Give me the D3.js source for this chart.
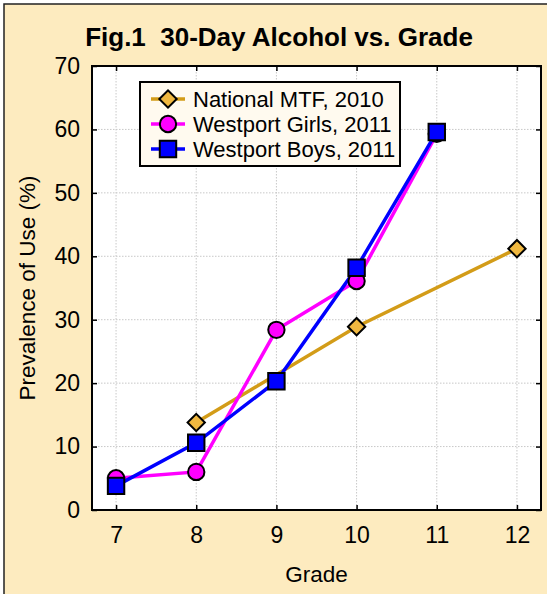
<!DOCTYPE html>
<html>
<head>
<meta charset="utf-8">
<script src="https://cdn.jsdelivr.net/npm/d3@7"></script>
<style>
    body { margin: 0; background: #fff; }
    text { font-family: Arial, "Liberation Sans", sans-serif; fill: #000; }
</style>
</head>
<body>
<div id="chart"></div>
<script>
const grades = [7, 8, 9, 10, 11, 12];
const yTicks = [0, 10, 20, 30, 40, 50, 60, 70];

const mtfGrades = [8, 10, 12];
const mtfValues = [13.8, 28.9, 41.2];
const girlsGrades = [7, 8, 9, 10, 11];
const girlsValues = [5.0, 6.0, 28.4, 36.1, 59.3];
const boysGrades = [7, 8, 9, 10, 11];
const boysValues = [3.8, 10.6, 20.3, 38.2, 59.6];

const seriesNames = ['National MTF, 2010', 'Westport Girls, 2011', 'Westport Boys, 2011'];

const width = 547, height = 594;
const margin = {top: 66, right: 6, bottom: 84, left: 92};
const plotW = width - margin.left - margin.right;
const plotH = height - margin.top - margin.bottom;

const series = [
    {name: seriesNames[0], line: '#d39c18', fill: '#f0b840', shape: 'diamond',
        data: mtfGrades.map((g, i) => ({grade: g, value: mtfValues[i]}))},
    {name: seriesNames[1], line: '#ff00ff', fill: '#ff00ff', shape: 'circle',
        data: girlsGrades.map((g, i) => ({grade: g, value: girlsValues[i]}))},
    {name: seriesNames[2], line: '#0000ff', fill: '#0000ff', shape: 'square',
        data: boysGrades.map((g, i) => ({grade: g, value: boysValues[i]}))}
];

const svg = d3.select('#chart')
    .append('svg')
    .attr('width', width)
    .attr('height', height);

// outer panel
svg.append('rect')
    .attr('x', 4).attr('y', 4)
    .attr('width', width + 10).attr('height', height + 10)
    .attr('fill', '#fdebbf')
    .attr('stroke', '#222')
    .attr('stroke-width', 1.5);

svg.append('text')
    .attr('x', 279)
    .attr('y', 46)
    .attr('text-anchor', 'middle')
    .attr('xml:space', 'preserve')
    .style('white-space', 'pre')
    .style('font-size', '26px')
    .style('font-weight', 'bold')
    .text('Fig.1  30-Day Alcohol vs. Grade');

const x = d3.scaleLinear().domain([6.7, 12.3]).range([0, plotW]);
const y = d3.scaleLinear().domain([0, 70]).range([plotH, 0]);

const g = svg.append('g')
    .attr('transform', `translate(${margin.left},${margin.top})`);

g.append('rect')
    .attr('width', plotW).attr('height', plotH)
    .attr('fill', '#fff');

// grid
g.append('g')
    .selectAll('line')
    .data(grades)
    .enter()
    .append('line')
    .attr('x1', d => x(d)).attr('x2', d => x(d))
    .attr('y1', 0).attr('y2', plotH)
    .attr('stroke', '#c8c8c8')
    .attr('stroke-dasharray', '1.5,1.5');
g.append('g')
    .selectAll('line')
    .data(yTicks.slice(1, -1))
    .enter()
    .append('line')
    .attr('x1', 0).attr('x2', plotW)
    .attr('y1', d => y(d)).attr('y2', d => y(d))
    .attr('stroke', '#c8c8c8')
    .attr('stroke-dasharray', '1.5,1.5');

// axes, ticks pointing inward
const xAxis = d3.axisBottom(x).tickValues(grades).tickSize(-5).tickPadding(17).tickFormat(d3.format('d'));
const yAxis = d3.axisLeft(y).tickValues(yTicks).tickSize(-5).tickPadding(12);

const xg = g.append('g').attr('transform', `translate(0,${plotH})`).call(xAxis);
const yg = g.append('g').call(yAxis);
g.append('g').call(d3.axisTop(x).tickValues(grades).tickSize(-5).tickFormat(''));
g.append('g').attr('transform', `translate(${plotW},0)`)
    .call(d3.axisRight(y).tickValues(yTicks).tickSize(-5).tickFormat(''));

svg.selectAll('.domain').remove();
svg.selectAll('.tick line').attr('stroke', '#000').attr('stroke-width', 1.5);
[xg, yg].forEach(a => a.selectAll('text').style('font-size', '23px').style('font-family', 'Arial, "Liberation Sans", sans-serif'));

g.append('rect')
    .attr('width', plotW).attr('height', plotH)
    .attr('fill', 'none')
    .attr('stroke', '#000')
    .attr('stroke-width', 2);

svg.append('text')
    .attr('x', margin.left + plotW / 2)
    .attr('y', 582)
    .attr('text-anchor', 'middle')
    .style('font-size', '22.5px')
    .text('Grade');

svg.append('text')
    .attr('transform', `translate(35,${margin.top + plotH / 2}) rotate(-90)`)
    .attr('text-anchor', 'middle')
    .style('font-size', '22.5px')
    .text('Prevalence of Use (%)');

// markers
const symbolFor = {
    diamond: d3.symbol().type(d3.symbolSquare).size(150),
    circle: d3.symbol().type(d3.symbolCircle).size(210),
    square: d3.symbol().type(d3.symbolSquare).size(270)
};

function drawMarker(sel, s) {
    sel.append('path')
        .attr('d', symbolFor[s.shape]())
        .attr('transform', s.shape === 'diamond' ? 'rotate(45)' : null)
        .attr('fill', s.fill)
        .attr('stroke', '#000')
        .attr('stroke-width', 2);
}

const line = d3.line().x(d => x(d.grade)).y(d => y(d.value));

series.forEach(s => {
    g.append('path')
        .attr('d', line(s.data))
        .attr('fill', 'none')
        .attr('stroke', s.line)
        .attr('stroke-width', 3.5);
});
series.forEach(s => {
    g.selectAll(null)
        .data(s.data)
        .enter()
        .append('g')
        .attr('transform', d => `translate(${x(d.grade)},${y(d.value)})`)
        .each(function () { drawMarker(d3.select(this), s); });
});

// legend
const legend = svg.append('g');
legend.append('rect')
    .attr('x', 140).attr('y', 82)
    .attr('width', 260).attr('height', 84)
    .attr('fill', '#fffaef')
    .attr('stroke', '#000')
    .attr('stroke-width', 2);
series.forEach((s, i) => {
    const cy = 99 + i * 25;
    legend.append('line')
        .attr('x1', 151).attr('x2', 185)
        .attr('y1', cy).attr('y2', cy)
        .attr('stroke', s.line)
        .attr('stroke-width', 3.5);
    const m = legend.append('g').attr('transform', `translate(168,${cy})`);
    drawMarker(m, s);
    legend.append('text')
        .attr('x', 193)
        .attr('y', cy + 7.5)
        .style('font-size', '22px')
        .text(s.name);
});
</script>
</body>
</html>
